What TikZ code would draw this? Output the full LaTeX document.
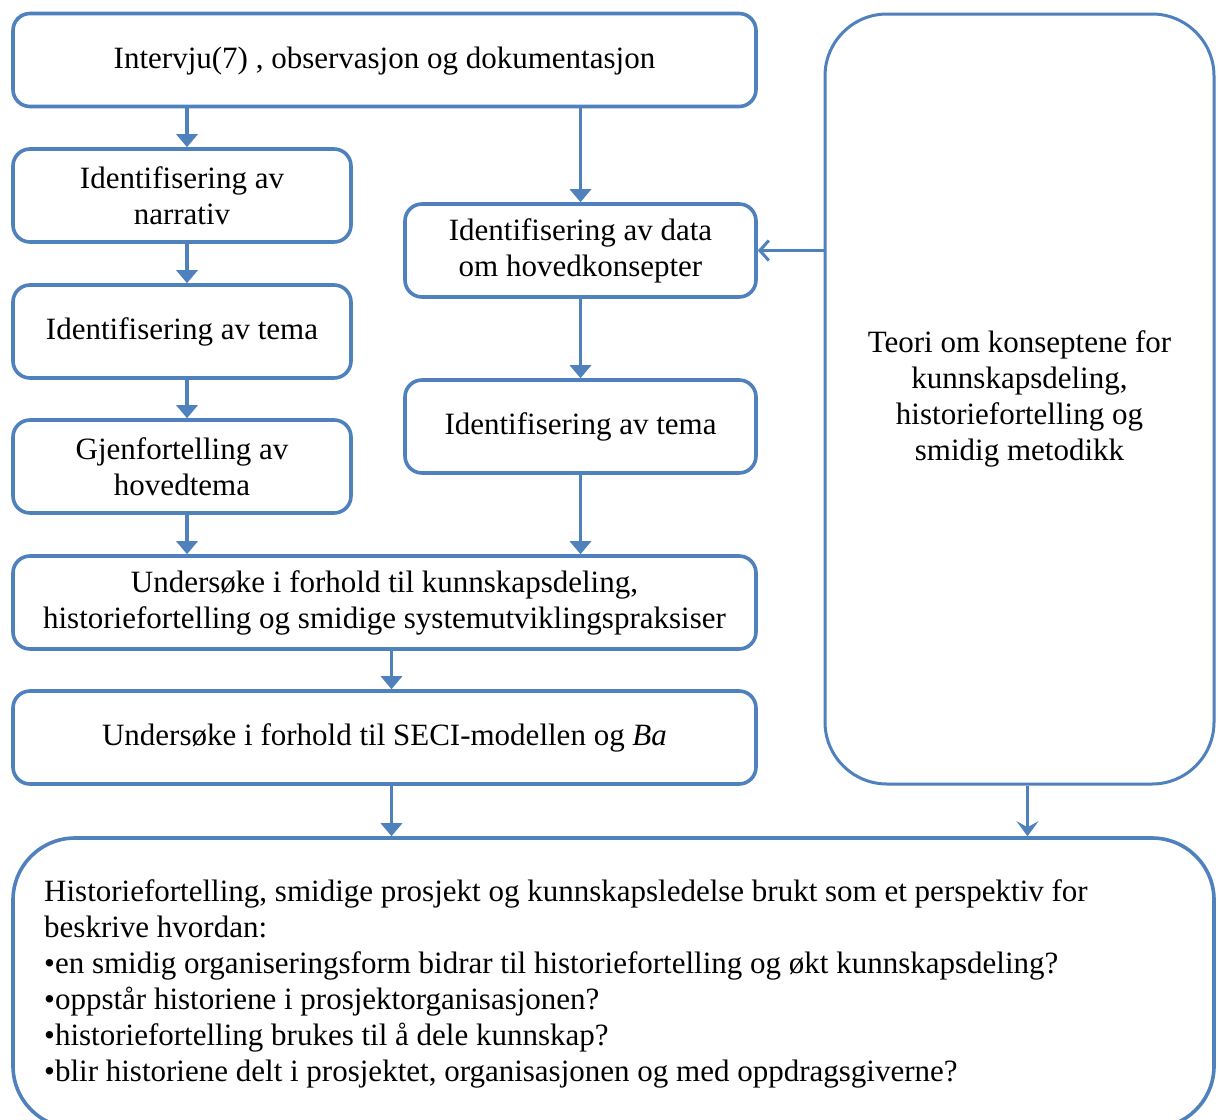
\documentclass[tikz,border=0pt]{standalone}
\usepackage{fontspec}
\setmainfont{Liberation Serif}
\usetikzlibrary{arrows.meta,calc}
\definecolor{flowblue}{RGB}{79,129,189}
\begin{document}
\begin{tikzpicture}[x=1pt,y=-1pt,
  box/.style={draw=flowblue,line width=3.6pt,rounded corners=17pt,fill=white,
    inner sep=0pt,align=center,font=\fontsize{31}{36}\selectfont},
  bigbox/.style={box,rounded corners=62pt},
  flow/.style={draw=flowblue,line width=3.6pt,-{Triangle[width=21pt,length=13pt]}},
  barbflow/.style={draw=flowblue,line width=3pt,-{Straight Barb[width=20pt,length=9pt,line width=3pt]}},
  notchflow/.style={draw=flowblue,line width=3pt,-{Stealth[width=22pt,length=15pt,inset=6pt]}},
  txt/.style={inner sep=0pt,align=left,anchor=north west,font=\fontsize{31}{36}\selectfont}]
\useasboundingbox (0,0) rectangle (1218,1119);
\fill[white] (0,0) rectangle (1218,1119);

% left column
\node[box,minimum width=743pt,minimum height=93pt,text depth=4pt] (intervju) at (384.5,60)
  {Intervju(7) , observasjon og dokumentasjon};
\node[box,minimum width=338pt,minimum height=93pt] (narrativ) at (182,195.5)
  {Identifisering av\\narrativ};
\node[box,minimum width=338pt,minimum height=93pt] (temaL) at (182,331.5)
  {Identifisering av tema};
\node[box,minimum width=338pt,minimum height=93pt] (gjen) at (182,466.5)
  {Gjenfortelling av\\hovedtema};

% right column
\node[box,minimum width=351pt,minimum height=93pt] (data) at (580.5,250.5)
  {Identifisering av data\\om hovedkonsepter};
\node[box,minimum width=351pt,minimum height=93pt] (temaR) at (580.5,426.5)
  {Identifisering av tema};

% joint steps
\node[box,minimum width=743pt,minimum height=93pt] (unders) at (384.5,602.5)
  {Undersøke i forhold til kunnskapsdeling,\\historiefortelling og smidige systemutviklingspraksiser};
\node[box,minimum width=743pt,minimum height=93pt] (seci) at (384.5,737.5)
  {Undersøke i forhold til SECI-modellen og \textit{Ba}};

% theory box
\node[bigbox,line width=3pt,minimum width=389pt,minimum height=770pt] (teori) at (1019.5,399)
  {Teori om konseptene for\\kunnskapsdeling,\\historiefortelling og\\smidig metodikk};

% result box
\node[bigbox,minimum width=1201pt,minimum height=290pt] (result) at (613.5,983) {};
\node[txt] (resulttext) at (44,879)
  {Historiefortelling, smidige prosjekt og kunnskapsledelse brukt som et perspektiv for\\
   beskrive hvordan:\\
   •en smidig organiseringsform bidrar til historiefortelling og økt kunnskapsdeling?\\
   •oppstår historiene i prosjektorganisasjonen?\\
   •historiefortelling brukes til å dele kunnskap?\\
   •blir historiene delt i prosjektet, organisasjonen og med oppdragsgiverne?};

% connectors
\draw[flow] (intervju.south -| narrativ) ++(5,0) coordinate (a1) -- (a1 |- narrativ.north);
\draw[flow] (intervju.south -| data) -- (data.north);
\draw[flow] ($(narrativ.south)+(5,0)$) -- ($(temaL.north)+(5,0)$);
\draw[flow] ($(temaL.south)+(5,0)$) -- ($(gjen.north)+(5,0)$);
\draw[flow] ($(gjen.south)+(5,0)$) coordinate (a2) -- (a2 |- unders.north);
\draw[flow] (data.south) -- (temaR.north);
\draw[flow] (temaR.south) -- (temaR.south |- unders.north);
\draw[flow] ($(unders.south)+(7,0)$) -- ($(seci.north)+(7,0)$);
\draw[flow] ($(seci.south)+(7,0)$) coordinate (a3) -- (a3 |- result.north);
\draw[barbflow] (teori.west |- data.east) -- (data.east);
\draw[notchflow] ($(teori.south)+(8,0)$) coordinate (a4) -- (a4 |- result.north);
\end{tikzpicture}
\end{document}
